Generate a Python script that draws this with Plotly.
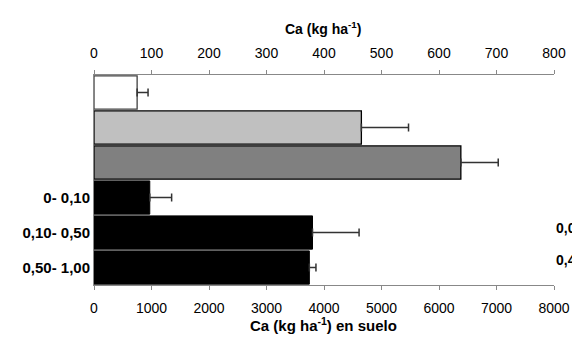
"""
Ca en planta (eje superior) y Ca en suelo por profundidad (eje inferior).
"""

import plotly.graph_objects as go

# Ca (kg ha-1) -- eje superior
top_vals = [75, 465, 638]
top_err = [19, 82, 65]
top_colors = ["#ffffff", "#c0c0c0", "#808080"]
top_edges = ["#404040", "#000000", "#000000"]

# Ca (kg ha-1) en suelo -- eje inferior
depths = ["0- 0,10", "0,10- 0,50", "0,50- 1,00"]
soil_vals = [970, 3800, 3745]
soil_err = [380, 810, 115]

top_ticks = [0, 100, 200, 300, 400, 500, 600, 700, 800]
bottom_ticks = [0, 1000, 2000, 3000, 4000, 5000, 6000, 7000, 8000]

# etiquetas cortadas en el borde derecho
right_labels = ["0,00", "0,40"]

tick_font = dict(family="Liberation Sans, Arial, sans-serif", size=14, color="#000")
bold_font = dict(family="Liberation Sans, Arial, sans-serif", size=14, color="#000", weight="bold")

# slot positions: top bars occupy 5,4,3; soil bars 2,1,0
top_y = [5, 4, 3]
soil_y = [2, 1, 0]

fig = go.Figure()

fig.add_trace(go.Bar(
    x=top_vals,
    y=top_y,
    orientation="h",
    width=0.95,
    xaxis="x2",
    yaxis="y",
    marker=dict(color=top_colors, line=dict(color=top_edges, width=1.3)),
    error_x=dict(type="data", array=top_err, arrayminus=[0, 0, 0], symmetric=False,
                 color="#333333", thickness=1.5, width=4),
    showlegend=False,
    hoverinfo="x",
))

fig.add_trace(go.Bar(
    x=soil_vals,
    y=soil_y,
    orientation="h",
    width=0.95,
    xaxis="x",
    yaxis="y",
    marker=dict(color="#000000", line=dict(color="#000000", width=1)),
    error_x=dict(type="data", array=soil_err, arrayminus=[0, 0, 0], symmetric=False,
                 color="#333333", thickness=1.5, width=4),
    showlegend=False,
    hoverinfo="x",
))

axis_common = dict(
    ticks="outside",
    ticklen=4,
    tickcolor="#888888",
    ticklabelstandoff=6,
    showline=True,
    linecolor="#888888",
    linewidth=1,
    showgrid=False,
    zeroline=False,
    tickfont=tick_font,
    fixedrange=True,
    automargin=False,
)

fig.update_layout(
    width=572,
    height=339,
    margin=dict(l=94, r=18, t=75, b=54),
    paper_bgcolor="white",
    plot_bgcolor="white",
    xaxis=dict(axis_common, range=[0, 8000], tickvals=bottom_ticks),
    xaxis2=dict(axis_common, range=[0, 800], tickvals=top_ticks,
                overlaying="x", side="top"),
    yaxis=dict(
        range=[-0.5, 5.5],
        tickvals=soil_y,
        ticktext=depths,
        ticks="",
        showline=True,
        linecolor="#888888",
        linewidth=1,
        showgrid=False,
        zeroline=False,
        tickfont=dict(bold_font, size=15),
        fixedrange=True,
        automargin=False,
    ),
)

fig.add_annotation(
    text="<b>Ca (kg ha<sup>-1</sup>)</b>",
    xref="paper", yref="paper", x=0.498, y=1.276,
    showarrow=False, font=bold_font,
)
fig.add_annotation(
    text="<b>Ca (kg ha<sup>-1</sup>) en suelo</b>",
    xref="paper", yref="paper", x=0.498, y=-0.245,
    showarrow=False, font=dict(bold_font, size=15),
)

for yv, lab in zip([1.13, 0.22], right_labels):
    fig.add_annotation(
        text="<b>" + lab + "</b>",
        xref="paper", yref="y", x=1.0, y=yv,
        xanchor="left", showarrow=False, font=bold_font,
    )

# page body has a default 8px margin; drop it so the chart sits at the corner
fig.write_html("out.html", config={"displayModeBar": False},
               post_script="document.body.style.margin='0';")
